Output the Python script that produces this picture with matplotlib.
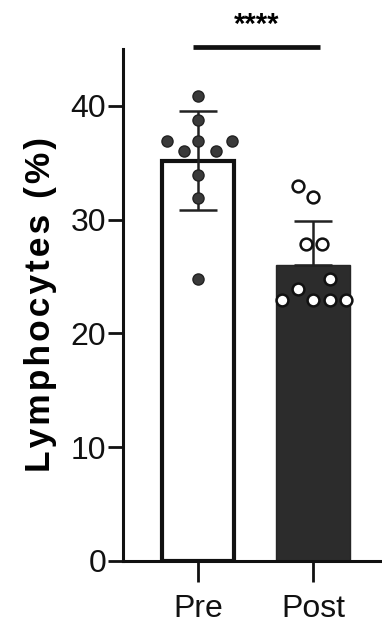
import matplotlib
matplotlib.use('Agg')
import matplotlib.pyplot as plt
import numpy as np

# data
groups = ['Pre', 'Post']
means = [35.2, 26.0]
sd_upper = [4.35, 3.9]
sd_lower = [4.35, 0.0]   # lower whisker of Post is hidden in the dark bar
pre_vals = [40.9, 38.8, 36.9, 36.9, 36.9, 36.0, 36.0, 33.9, 31.9, 24.8]
pre_jitter = [0, 0, 0, -0.27, 0.30, -0.12, 0.16, 0, 0, 0]
post_vals = [33.0, 32.0, 27.9, 27.9, 24.8, 23.9, 22.9, 22.9, 22.9, 22.9]
post_jitter = [-0.13, 0, -0.06, 0.08, 0.15, -0.13, -0.27, 0, 0.15, 0.29]
yticks = [0, 10, 20, 30, 40]
sig_label = '****'

plt.rcParams['font.family'] = ['Liberation Sans', 'DejaVu Sans']

fig = plt.figure(figsize=(3.82, 6.32), dpi=100)
ax = fig.add_axes([123/382, 71/632, 1 - 123/382, 512/632])

x = np.arange(len(groups))
ax.bar(x[0], means[0], width=0.62, color='white', edgecolor='#111111', linewidth=3, zorder=1)
ax.bar(x[1], means[1], width=0.65, color='#2c2c2c', edgecolor='#262626', linewidth=1, zorder=1)
ax.errorbar(x, means, yerr=[sd_lower, sd_upper], fmt='none', ecolor='#222222', elinewidth=1.8,
            capsize=13.5, capthick=1.8, zorder=2)

ax.plot(x[0] + np.array(pre_jitter), pre_vals, 'o', ms=8, mfc='#3a3a3a', mec='#222222',
        mew=1, zorder=3, clip_on=False)
ax.plot(x[1] + np.array(post_jitter), post_vals, 'o', ms=8.5, mfc='white', mec='#111111',
        mew=1.8, zorder=3, clip_on=False)

# significance bar
ax.plot([-0.04, 1.06], [45.2, 45.2], color='#111111', lw=3.4, solid_capstyle='butt', clip_on=False)
ax.text(0.51, 45.9, sig_label, ha='center', va='bottom', fontsize=21, fontweight='bold')

ax.set_xlim(-0.652, 1.6)
ax.set_ylim(0, 45)
ax.set_yticks(yticks)
ax.set_xticks(x)
ax.set_xticklabels(groups)

for s in ['top', 'right']:
    ax.spines[s].set_visible(False)
for s in ['left', 'bottom']:
    ax.spines[s].set_linewidth(2.2)
    ax.spines[s].set_color('#111111')

ax.tick_params(axis='y', length=11, width=2, labelsize=23, pad=1, colors='#111111')
ax.tick_params(axis='x', length=15, width=2, labelsize=23, pad=9, colors='#111111')

label = '\u200a'.join('Lymphocytes (%)')
ax.set_ylabel(label, fontsize=25.5, fontweight='bold', labelpad=10)

fig.savefig('out.png', dpi=100)
